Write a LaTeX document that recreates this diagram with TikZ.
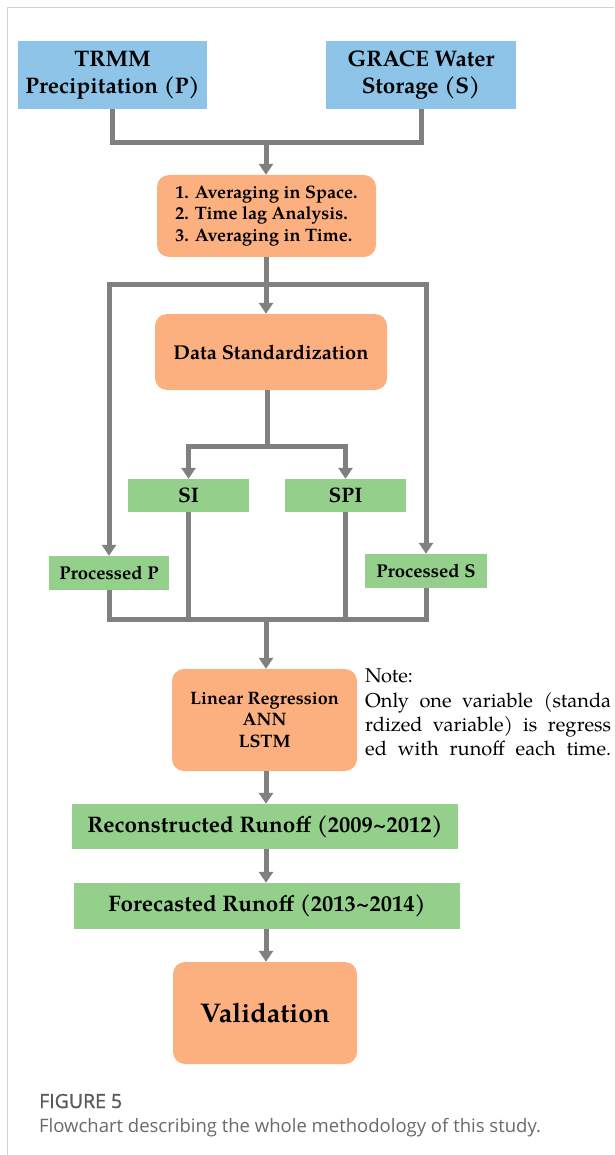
\documentclass[tikz,border=0pt]{standalone}
\usepackage{fontspec}
\setmainfont{TeX Gyre Pagella}
\newfontfamily\capfont{Open Sans}
\newfontfamily\capfontb[FakeBold=1.2]{Open Sans}
\usetikzlibrary{arrows.meta}
\definecolor{bluebox}{RGB}{141,196,232}
\definecolor{orangebox}{RGB}{252,176,128}
\definecolor{greenbox}{RGB}{148,207,140}
\definecolor{linegray}{RGB}{128,128,128}
\definecolor{framegray}{RGB}{210,210,210}
\definecolor{capgray}{RGB}{105,105,105}
\definecolor{figgray}{RGB}{90,90,90}
\tikzset{
  boxbase/.style={draw=none, inner sep=0pt, align=center, font=\bfseries},
  bluenode/.style={boxbase, fill=bluebox},
  greennode/.style={boxbase, fill=greenbox},
  orangenode/.style={boxbase, fill=orangebox, rounded corners=12pt},
  conn/.style={draw=linegray, line width=5pt, line join=miter},
  arr/.style={conn, -{Triangle[length=11pt,width=14pt]}},
}
\begin{document}
\begin{tikzpicture}[x=1pt,y=-1pt]
\useasboundingbox (0,0) rectangle (614,1155);
% frame
\draw[framegray, line width=1pt] (614,7.5) -- (7.5,7.5) -- (7.5,1155);

\node[bluenode, minimum width=189pt, minimum height=68pt, font=\bfseries\fontsize{22.5}{27}\selectfont] (trmm) at (112.5,75) {TRMM\\Precipitation (P)};
\node[bluenode, minimum width=190pt, minimum height=68pt, font=\bfseries\fontsize{22.5}{27}\selectfont] (grace) at (421,75) {GRACE Water\\Storage (S)};

\node[orangenode, minimum width=219pt, minimum height=82pt, align=left, font=\bfseries\fontsize{18}{21.5}\selectfont] (avg) at (266.5,216) {1. Averaging in Space.\\2. Time lag Analysis.\\3. Averaging in Time.};

\node[orangenode, minimum width=232pt, minimum height=76pt, font=\bfseries\fontsize{20}{23}\selectfont] (ds) at (271,352) {Data Standardization};

\node[greennode, minimum width=121pt, minimum height=33pt, font=\bfseries\fontsize{21}{24}\selectfont] (si) at (188.5,495.5) {SI};
\node[greennode, minimum width=121pt, minimum height=33pt, font=\bfseries\fontsize{21}{24}\selectfont] (spi) at (345.5,495.5) {SPI};

\node[greennode, minimum width=120pt, minimum height=34pt, font=\bfseries\fontsize{18.5}{20}\selectfont] (pp) at (109,573) {Processed P};
\node[greennode, minimum width=122pt, minimum height=34pt, font=\bfseries\fontsize{18.5}{20}\selectfont] (ps) at (426,571) {Processed S};

\node[orangenode, minimum width=185pt, minimum height=102pt, font=\bfseries\fontsize{18}{21.5}\selectfont] (lr) at (264.5,720) {Linear Regression\\ANN\\LSTM};

\node[greennode, minimum width=386pt, minimum height=45pt, font=\bfseries\fontsize{22.5}{26}\selectfont] (rec) at (265,826.5) {Reconstructed Runoff (2009\textasciitilde2012)};
\node[greennode, minimum width=386pt, minimum height=46pt, font=\bfseries\fontsize{22.5}{26}\selectfont] (fore) at (267,906) {Forecasted Runoff (2013\textasciitilde2014)};

\node[orangenode, minimum width=184pt, minimum height=102pt, font=\bfseries\fontsize{27}{30}\selectfont] (val) at (265,1013) {Validation};

% note
\node[anchor=base west, inner sep=0pt, font=\fontsize{20}{24}\selectfont] (note1) at (365,682) {Note:};
\node[anchor=base west, inner sep=0pt, font=\fontsize{20}{24}\selectfont] (note2) at (365,707) {\hbox to 246pt{Only one variable (standa}};
\node[anchor=base west, inner sep=0pt, font=\fontsize{20}{24}\selectfont] (note3) at (365,731) {\hbox to 246pt{rdized variable) is regress}};
\node[anchor=base west, inner sep=0pt, font=\fontsize{20}{24}\selectfont] (note4) at (365,755) {\hbox to 246pt{ed with runoff each time.}};

% caption
\node[anchor=base west, inner sep=0pt, text=figgray, font=\capfontb\fontsize{19.5}{22}\selectfont] (fig) at (39,1108) {FIGURE 5};
\node[anchor=base west, inner sep=0pt, text=capgray, font=\capfont\fontsize{18.5}{22}\selectfont] (cap) at (39,1132) {Flowchart describing the whole methodology of this study.};

% connectors
\coordinate (j1) at (266,143);
\coordinate (j2) at (266,285);
\coordinate (j3) at (267,446);
\coordinate (j4) at (266,619);

\draw[conn] (trmm.south) |- (j1) -| (grace.south);
\draw[arr] (j1) -- (avg.north -| j1);

\draw[conn] (avg.south -| j2) -- (j2);
\draw[arr] (j2) -| (pp.north);
\draw[arr] (j2) -| (ps.north);
\draw[arr] (j2) -- (ds.north -| j2);

\draw[conn] (ds.south -| j3) -- (j3);
\draw[arr] (j3) -| (si.north);
\draw[arr] (j3) -| (spi.north);

\draw[conn] (pp.south) |- (j4);
\draw[conn] (si.south) |- (j4);
\draw[conn] (ps.south) |- (j4);
\draw[conn] (spi.south) |- (j4);
\draw[arr] (j4) -- (lr.north -| j4);

\draw[arr] (lr.south -| j4) -- (rec.north -| j4);
\draw[arr] (rec.south -| j4) -- (fore.north -| j4);
\draw[arr] (fore.south -| j4) -- (val.north -| j4);
\end{tikzpicture}
\end{document}
